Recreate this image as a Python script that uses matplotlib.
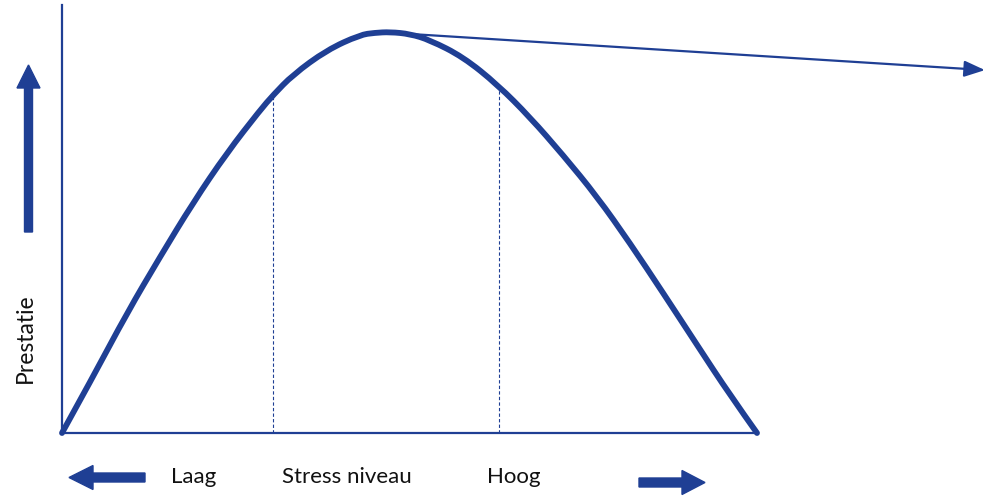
import matplotlib
matplotlib.use("Agg")
import matplotlib.pyplot as plt
from matplotlib.patches import FancyArrow, PathPatch
from matplotlib.path import Path
from matplotlib.transforms import IdentityTransform

# Data (stress level 0-100, performance 0-100)
stress = [0, 4.46, 9.35, 14.1, 18.85, 23.7, 28.5, 30.4, 33.2, 38.1, 42.9, 45.0,
          47.2, 50.1, 52.9, 57.7, 62.7, 67.3, 72.1, 77.0, 81.7, 86.5, 91.4, 96.1, 100]
performance = [0, 14.0, 29.9, 43.9, 57.4, 69.8, 80.5, 84.3, 89.3, 95.5, 99.3, 99.8,
               100, 99.5, 98.0, 93.8, 86.8, 78.8, 69.3, 58.9, 47.4, 34.9, 21.9, 9.5, 0]
markers_x = [30.4, 62.9]
markers_y = [84.3, 86.5]
tangent_start = (47.9, 99.75)
tangent_end = (132.8, 90.5)
labels = ["Laag", "Stress niveau", "Hoog"]
ylabel = "Prestatie"

color = "#1f3f94"
W, H = 987, 496
fig = plt.figure(figsize=(W / 100, H / 100), dpi=100)

left, bottom = 62, 433
ax = fig.add_axes([left / W, (H - bottom) / H, (W - left) / W, (bottom - 5) / H])
ax.set_xlim(0, (W - left) / 6.95)
ax.set_ylim(0, (bottom - 5) / 4.01)
for s in ["top", "right"]:
    ax.spines[s].set_visible(False)
for s in ["left", "bottom"]:
    ax.spines[s].set_color(color)
    ax.spines[s].set_linewidth(1.6)
ax.spines["bottom"].set_bounds(0, 100)
ax.set_xticks([])
ax.set_yticks([])
ax.patch.set_alpha(0)

# smooth rendering: data points used as quadratic Bezier control points
pts = list(zip(stress, performance))
verts = [pts[0]]
codes = [Path.MOVETO]
for i in range(1, len(pts) - 1):
    mid_next = ((pts[i][0] + pts[i + 1][0]) / 2, (pts[i][1] + pts[i + 1][1]) / 2)
    if i == len(pts) - 2:
        mid_next = pts[-1]
    verts += [pts[i], mid_next]
    codes += [Path.CURVE3, Path.CURVE3]
curve = PathPatch(Path(verts, codes), facecolor="none", edgecolor=color, lw=4.2,
                  capstyle="round", joinstyle="round", clip_on=False, zorder=3)
ax.add_patch(curve)

for mx, my in zip(markers_x, markers_y):
    ax.plot([mx, mx], [0, my], color=color, lw=0.8, ls=(0, (3, 2)), zorder=2)

ax.annotate("", xy=tangent_end, xytext=tangent_start,
            arrowprops=dict(arrowstyle="-|>,head_length=0.9,head_width=0.35",
                            color=color, lw=1.6, shrinkA=0, shrinkB=0,
                            mutation_scale=14),
            annotation_clip=False)

ident = IdentityTransform()
fig.add_artist(FancyArrow(28.5, H - 232, 0, -(65 - 232), width=8, head_width=23,
                          head_length=23, length_includes_head=True,
                          color=color, transform=ident))
fig.add_artist(FancyArrow(145, H - 477.5, 69 - 145, 0, width=9, head_width=24,
                          head_length=24, length_includes_head=True,
                          color=color, transform=ident))
fig.add_artist(FancyArrow(639, H - 482.5, 705 - 639, 0, width=9, head_width=24,
                          head_length=23, length_includes_head=True,
                          color=color, transform=ident))

font = "Lato"
xs = [194, 347, 514]
for lab, x in zip(labels, xs):
    fig.text(x / W, (H - 483) / H, lab, ha="center", va="baseline",
             fontsize=16, family=font, color="#111111")
fig.text(25 / W, (H - 338) / H, ylabel, rotation=90, ha="center", va="center",
         fontsize=16.5, family=font, color="#111111")

fig.savefig("out.png", dpi=100, facecolor="white")
